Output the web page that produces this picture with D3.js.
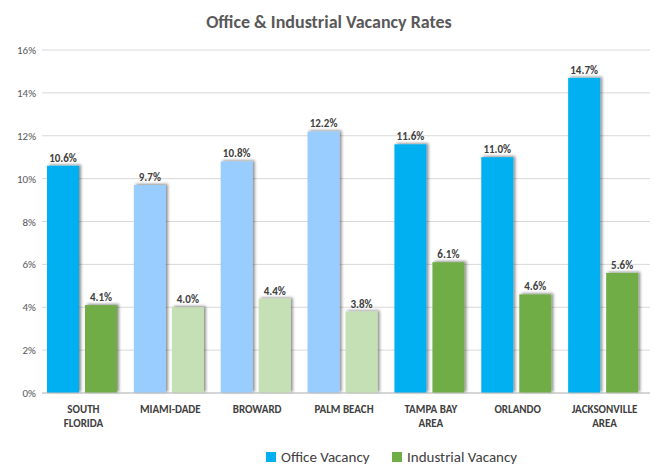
<!DOCTYPE html>
<html><head><meta charset="utf-8">
<script src="https://cdn.jsdelivr.net/npm/d3@7"></script>
<style>body{margin:0;background:#fff;font-family:Calibri,Carlito,"Liberation Sans",Arial,sans-serif}</style>
</head><body><svg id="c" width="658" height="476"></svg>
<script>
const categories=[["SOUTH","FLORIDA"],["MIAMI-DADE"],["BROWARD"],["PALM BEACH"],["TAMPA BAY","AREA"],["ORLANDO"],["JACKSONVILLE","AREA"]];
const officeVals=[10.6,9.7,10.8,12.2,11.6,11.0,14.7];
const industrialVals=[4.1,4.0,4.4,3.8,6.1,4.6,5.6];
const lightIdx=[1,2,3];
const yTicks=[0,2,4,6,8,10,12,14,16];
const svg=d3.select("#c");
const defs=svg.append("defs");
const f=defs.append("filter").attr("id","sh").attr("x","-20%").attr("y","-20%").attr("width","150%").attr("height","150%");
f.append("feDropShadow").attr("dx",2).attr("dy",-1).attr("stdDeviation",1.5).attr("flood-color","#000").attr("flood-opacity",0.45);
const x=d3.scaleBand().domain(d3.range(7)).range([42,650]);
const y=d3.scaleLinear().domain([0,16]).range([393,50]);
svg.append("text").attr("x",329).attr("y",28).attr("text-anchor","middle").attr("font-size",18).attr("font-weight","bold").attr("fill","#595959").text("Office & Industrial Vacancy Rates");
const g=svg.append("g");
g.selectAll("line.g").data(yTicks).join("line").attr("x1",42).attr("x2",650).attr("y1",d=>y(d)).attr("y2",d=>y(d)).attr("stroke","#d9d9d9");
g.selectAll("text.y").data(yTicks).join("text").attr("x",36).attr("y",d=>y(d)+4).attr("text-anchor","end").attr("font-size",11).attr("fill","#595959").text(d=>d+"%");
const bw=32;
categories.forEach((c,i)=>{
  const light=lightIdx.includes(i);
  const x0=x(i)+5;
  [[officeVals[i],light?"#99CCFF":"#00B0F0",x0],[industrialVals[i],light?"#C5E0B4":"#70AD47",x0+38]].forEach(([v,col,xx])=>{
    g.append("rect").attr("x",xx).attr("width",bw).attr("y",y(v)).attr("height",393-y(v)).attr("fill",col).attr("filter","url(#sh)");
    g.append("text").attr("x",xx+bw/2).attr("y",y(v)-4).attr("text-anchor","middle").attr("font-size",11).attr("font-weight","bold").attr("fill","#404040").text(v.toFixed(1)+"%");
  });
  const t=g.append("text").attr("text-anchor","middle").attr("font-size",11).attr("font-weight","bold").attr("fill","#404040");
  c.forEach((s,k)=>t.append("tspan").attr("x",x(i)+x.bandwidth()/2-2).attr("y",413+k*14).text(s));
});
g.append("line").attr("x1",42).attr("x2",650).attr("y1",393).attr("y2",393).attr("stroke","#bfbfbf");
const leg=[["Office Vacancy","#00B0F0",266],["Industrial Vacancy","#70AD47",392]];
leg.forEach(([t,c,lx])=>{
  svg.append("rect").attr("x",lx).attr("y",452).attr("width",10).attr("height",10).attr("fill",c);
  svg.append("text").attr("x",lx+15).attr("y",462).attr("font-size",15).attr("fill","#404040").text(t);
});
</script></body></html>
